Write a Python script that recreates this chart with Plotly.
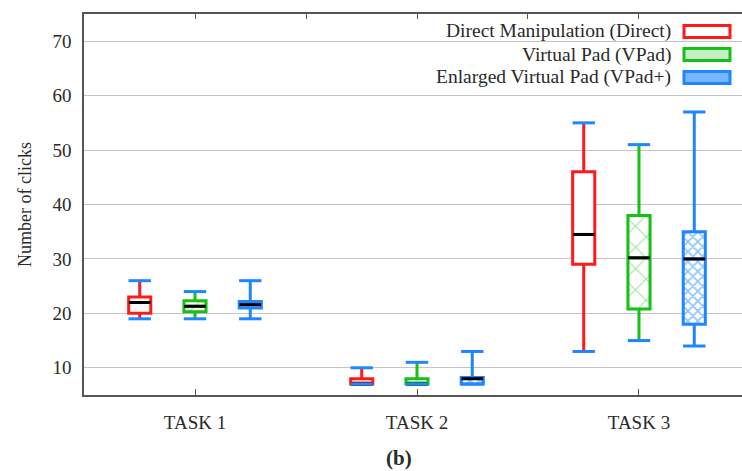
import plotly.graph_objects as go

tasks = ["TASK 1", "TASK 2", "TASK 3"]
task_pos = [0, 1, 2]

series_names = ["Direct Manipulation (Direct)", "Virtual Pad (VPad)", "Enlarged Virtual Pad (VPad+)"]

direct_min = [19, 7, 13]
direct_q1 = [20, 7, 29]
direct_med = [22, 7, 34.5]
direct_q3 = [23, 8, 46]
direct_max = [26, 10, 55]

vpad_min = [19, 7, 15]
vpad_q1 = [20.3, 7, 20.8]
vpad_med = [21.3, 7, 30.2]
vpad_q3 = [22.3, 8, 38]
vpad_max = [24, 11, 51]

vplus_min = [19, 7, 14]
vplus_q1 = [21, 7, 18]
vplus_med = [21.6, 8, 30]
vplus_q3 = [22.2, 8.2, 35]
vplus_max = [26, 13, 57]

RED = "#ff1a1a"
GREEN = "#16c016"
BLUE = "#1e86ff"
CAP = "#1e86ff"

stats = [
    (direct_min, direct_q1, direct_med, direct_q3, direct_max, RED, None, "d"),
    (vpad_min, vpad_q1, vpad_med, vpad_q3, vpad_max, GREEN, dict(shape="x", fgcolor="#3cc83c", bgcolor="white", size=15, solidity=0.15), "v"),
    (vplus_min, vplus_q1, vplus_med, vplus_q3, vplus_max, BLUE, dict(shape="x", fgcolor=BLUE, bgcolor="white", size=7, solidity=0.4), "p"),
]

GAP = 0.253
GROUPGAP = 0.6

fig = go.Figure()

# hatch / fill underlay (bars)
for (mn, q1, md, q3, mx, col, pat, og), name in zip(stats, series_names):
    marker = dict(color="white", line=dict(width=0))
    if pat is not None:
        marker["pattern"] = pat
    fig.add_trace(go.Bar(
        x=task_pos, y=[b - a for a, b in zip(q1, q3)], base=q1, name=name,
        offsetgroup=og, marker=marker, showlegend=False, hoverinfo="skip"))

# boxes
for (mn, q1, md, q3, mx, col, pat, og), name in zip(stats, series_names):
    fig.add_trace(go.Box(
        x=task_pos, q1=q1, median=md, q3=q3, lowerfence=mn, upperfence=mx,
        name=name, offsetgroup=og, line=dict(color=col, width=3), fillcolor="rgba(0,0,0,0)",
        whiskerwidth=0, boxpoints=False, showlegend=False))

# medians (black) and whisker caps (blue)
for mn, q1, md, q3, mx, col, pat, og in stats:
    fig.add_trace(go.Scatter(
        x=task_pos, y=md, mode="markers", offsetgroup=og,
        marker=dict(symbol="line-ew", size=15.5, line=dict(color="black", width=3)),
        showlegend=False, hoverinfo="skip"))
for mn, q1, md, q3, mx, col, pat, og in stats:
    for vals in (mn, mx):
        fig.add_trace(go.Scatter(
            x=task_pos, y=vals, mode="markers", offsetgroup=og,
            marker=dict(symbol="line-ew", size=16, line=dict(color=CAP, width=3)),
            showlegend=False, hoverinfo="skip"))

# invisible trace for top axis
fig.add_trace(go.Scatter(x=[0], y=[40], xaxis="x2", mode="markers",
                         marker=dict(opacity=0), showlegend=False, hoverinfo="skip"))

FONT = "Liberation Serif"
AXC = "#555555"
TXT = "#2a2a2a"

fig.update_layout(
    width=742, height=471,
    margin=dict(l=84, r=0, t=14, b=76),
    paper_bgcolor="white", plot_bgcolor="white",
    barmode="group", bargap=GAP, bargroupgap=GROUPGAP,
    boxmode="group", boxgap=GAP, boxgroupgap=GROUPGAP,
    scattermode="group", scattergap=GAP,
    font=dict(family=FONT, size=18, color=TXT),
    xaxis=dict(range=[-0.5, 2.464], tickvals=task_pos, ticktext=tasks,
               ticks="inside", ticklen=6, tickcolor=AXC, tickwidth=1,
               showline=True, linecolor=AXC, linewidth=1.5, showgrid=False,
               zeroline=False, tickfont=dict(size=19), ticklabelstandoff=9),
    xaxis2=dict(overlaying="x", side="top", range=[-0.5, 2.464],
                tickvals=[0, 0.5, 1, 1.5, 2], showticklabels=False,
                ticks="inside", ticklen=5, tickcolor=AXC,
                showline=True, linecolor=AXC, linewidth=1.5, showgrid=False, zeroline=False),
    yaxis=dict(range=[5, 75], tickvals=[10, 20, 30, 40, 50, 60, 70],
               showline=True, linecolor=AXC, linewidth=1.5,
               showgrid=True, gridcolor="#c4c4c4", gridwidth=1, zeroline=False,
               ticks="", tickfont=dict(size=19), ticklabelstandoff=7,
               title=dict(text="Number of clicks", font=dict(size=18), standoff=16)),
)

# legend (manual, gnuplot-style: text left of swatch)
def px_x(p):
    return (p - 84) / 658.0

def px_y(p):
    return (395 - p) / 381.0

fig.add_shape(type="rect", xref="paper", yref="paper",
              x0=px_x(398), x1=1.0, y0=px_y(90), y1=px_y(19),
              fillcolor="white", line=dict(width=0), layer="between")

legend_rows = [
    (series_names[0], 31.5, RED, "white"),
    (series_names[1], 54.5, GREEN, "#c6efc6"),
    (series_names[2], 77.5, BLUE, "#78b6ff"),
]
for text, yc, col, fill in legend_rows:
    fig.add_annotation(text=text, xref="paper", yref="paper",
                       x=px_x(673), y=px_y(yc), xanchor="right", yanchor="middle",
                       showarrow=False, font=dict(family=FONT, size=19.5, color=TXT))
    fig.add_shape(type="rect", xref="paper", yref="paper",
                  x0=px_x(684), x1=px_x(730), y0=px_y(yc + 6), y1=px_y(yc - 6),
                  fillcolor=fill, line=dict(color=col, width=3))

fig.add_annotation(text="<b>(b)</b>", xref="paper", yref="paper",
                   x=px_x(399), y=px_y(458), xanchor="center", yanchor="middle",
                   showarrow=False, font=dict(family=FONT, size=21, color=TXT))

fig.write_html("out.html")
